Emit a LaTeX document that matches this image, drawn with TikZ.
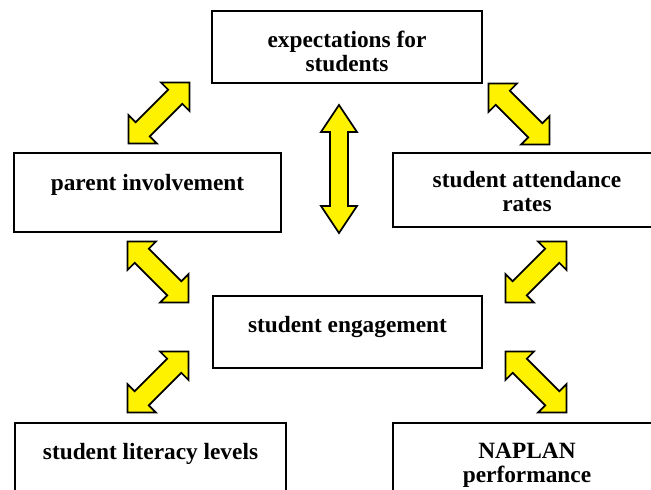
\documentclass[tikz,border=0pt]{standalone}
\usepackage{fontspec}
\setmainfont{Liberation Serif}
\newcommand\yarr[8]{% name, cx, cy, angle, half length, head half width, shaft half width, head length
  \coordinate (#1) at (#2,#3);
  \begin{scope}[shift={(#1)}, rotate=#4]
    \draw[yarrow] (-#5,0) -- (-#5+#8,#6) -- (-#5+#8,#7) -- (#5-#8,#7) -- (#5-#8,#6) -- (#5,0)
      -- (#5-#8,-#6) -- (#5-#8,-#7) -- (-#5+#8,-#7) -- (-#5+#8,-#6) -- cycle;
  \end{scope}}
\begin{document}
\begin{tikzpicture}[x=0.75pt,y=-0.75pt,
  boxstyle/.style={draw=black, line width=1.4pt, fill=white, rectangle, inner sep=0pt},
  lbl/.style={font=\fontsize{17.5}{18}\selectfont\bfseries, align=center, inner sep=0pt, anchor=north},
  yarrow/.style={fill=yellow, draw=black, line width=1.3pt, line join=miter}]
\useasboundingbox (0,0) rectangle (651,490);
\clip (0,0) rectangle (651,490);
% boxes
\node[boxstyle, minimum width=202.5pt, minimum height=54pt] (top) at (347,47) {};
\node[boxstyle, minimum width=200.25pt, minimum height=59.25pt] (parent) at (147.5,192.5) {};
\node[boxstyle, minimum width=201pt, minimum height=55.5pt] (attend) at (527,190) {};
\node[boxstyle, minimum width=201.75pt, minimum height=54pt] (engage) at (347.5,332) {};
\node[boxstyle, minimum width=203.25pt, minimum height=65.25pt] (liter) at (150.5,466.5) {};
\node[boxstyle, minimum width=201pt, minimum height=65.25pt] (naplan) at (527,466.5) {};
% labels
\node[lbl] (toplbl) at (347,31) {expectations for\\students};
\node[lbl] (parentlbl) at (147.5,174) {parent involvement};
\node[lbl] (attendlbl) at (527,171) {student attendance\\rates};
\node[lbl] (engagelbl) at (347.5,316) {student engagement};
\node[lbl] (literlbl) at (150.5,443) {student literacy levels};
\node[lbl] (naplanlbl) at (527,443) {NAPLAN\\performance};
% arrows
\yarr{a1}{159}{113}{45}{43}{20}{10}{20}
\yarr{a2}{519}{114}{-45}{43}{20}{10}{20}
\yarr{a3}{339}{169}{90}{64}{18}{9}{27}
\yarr{a4}{158}{272}{-45}{43}{20}{10}{20}
\yarr{a5}{536}{272}{45}{43}{20}{10}{20}
\yarr{a6}{158}{382}{45}{43}{20}{10}{20}
\yarr{a7}{536}{382}{-45}{43}{20}{10}{20}
\end{tikzpicture}
\end{document}
